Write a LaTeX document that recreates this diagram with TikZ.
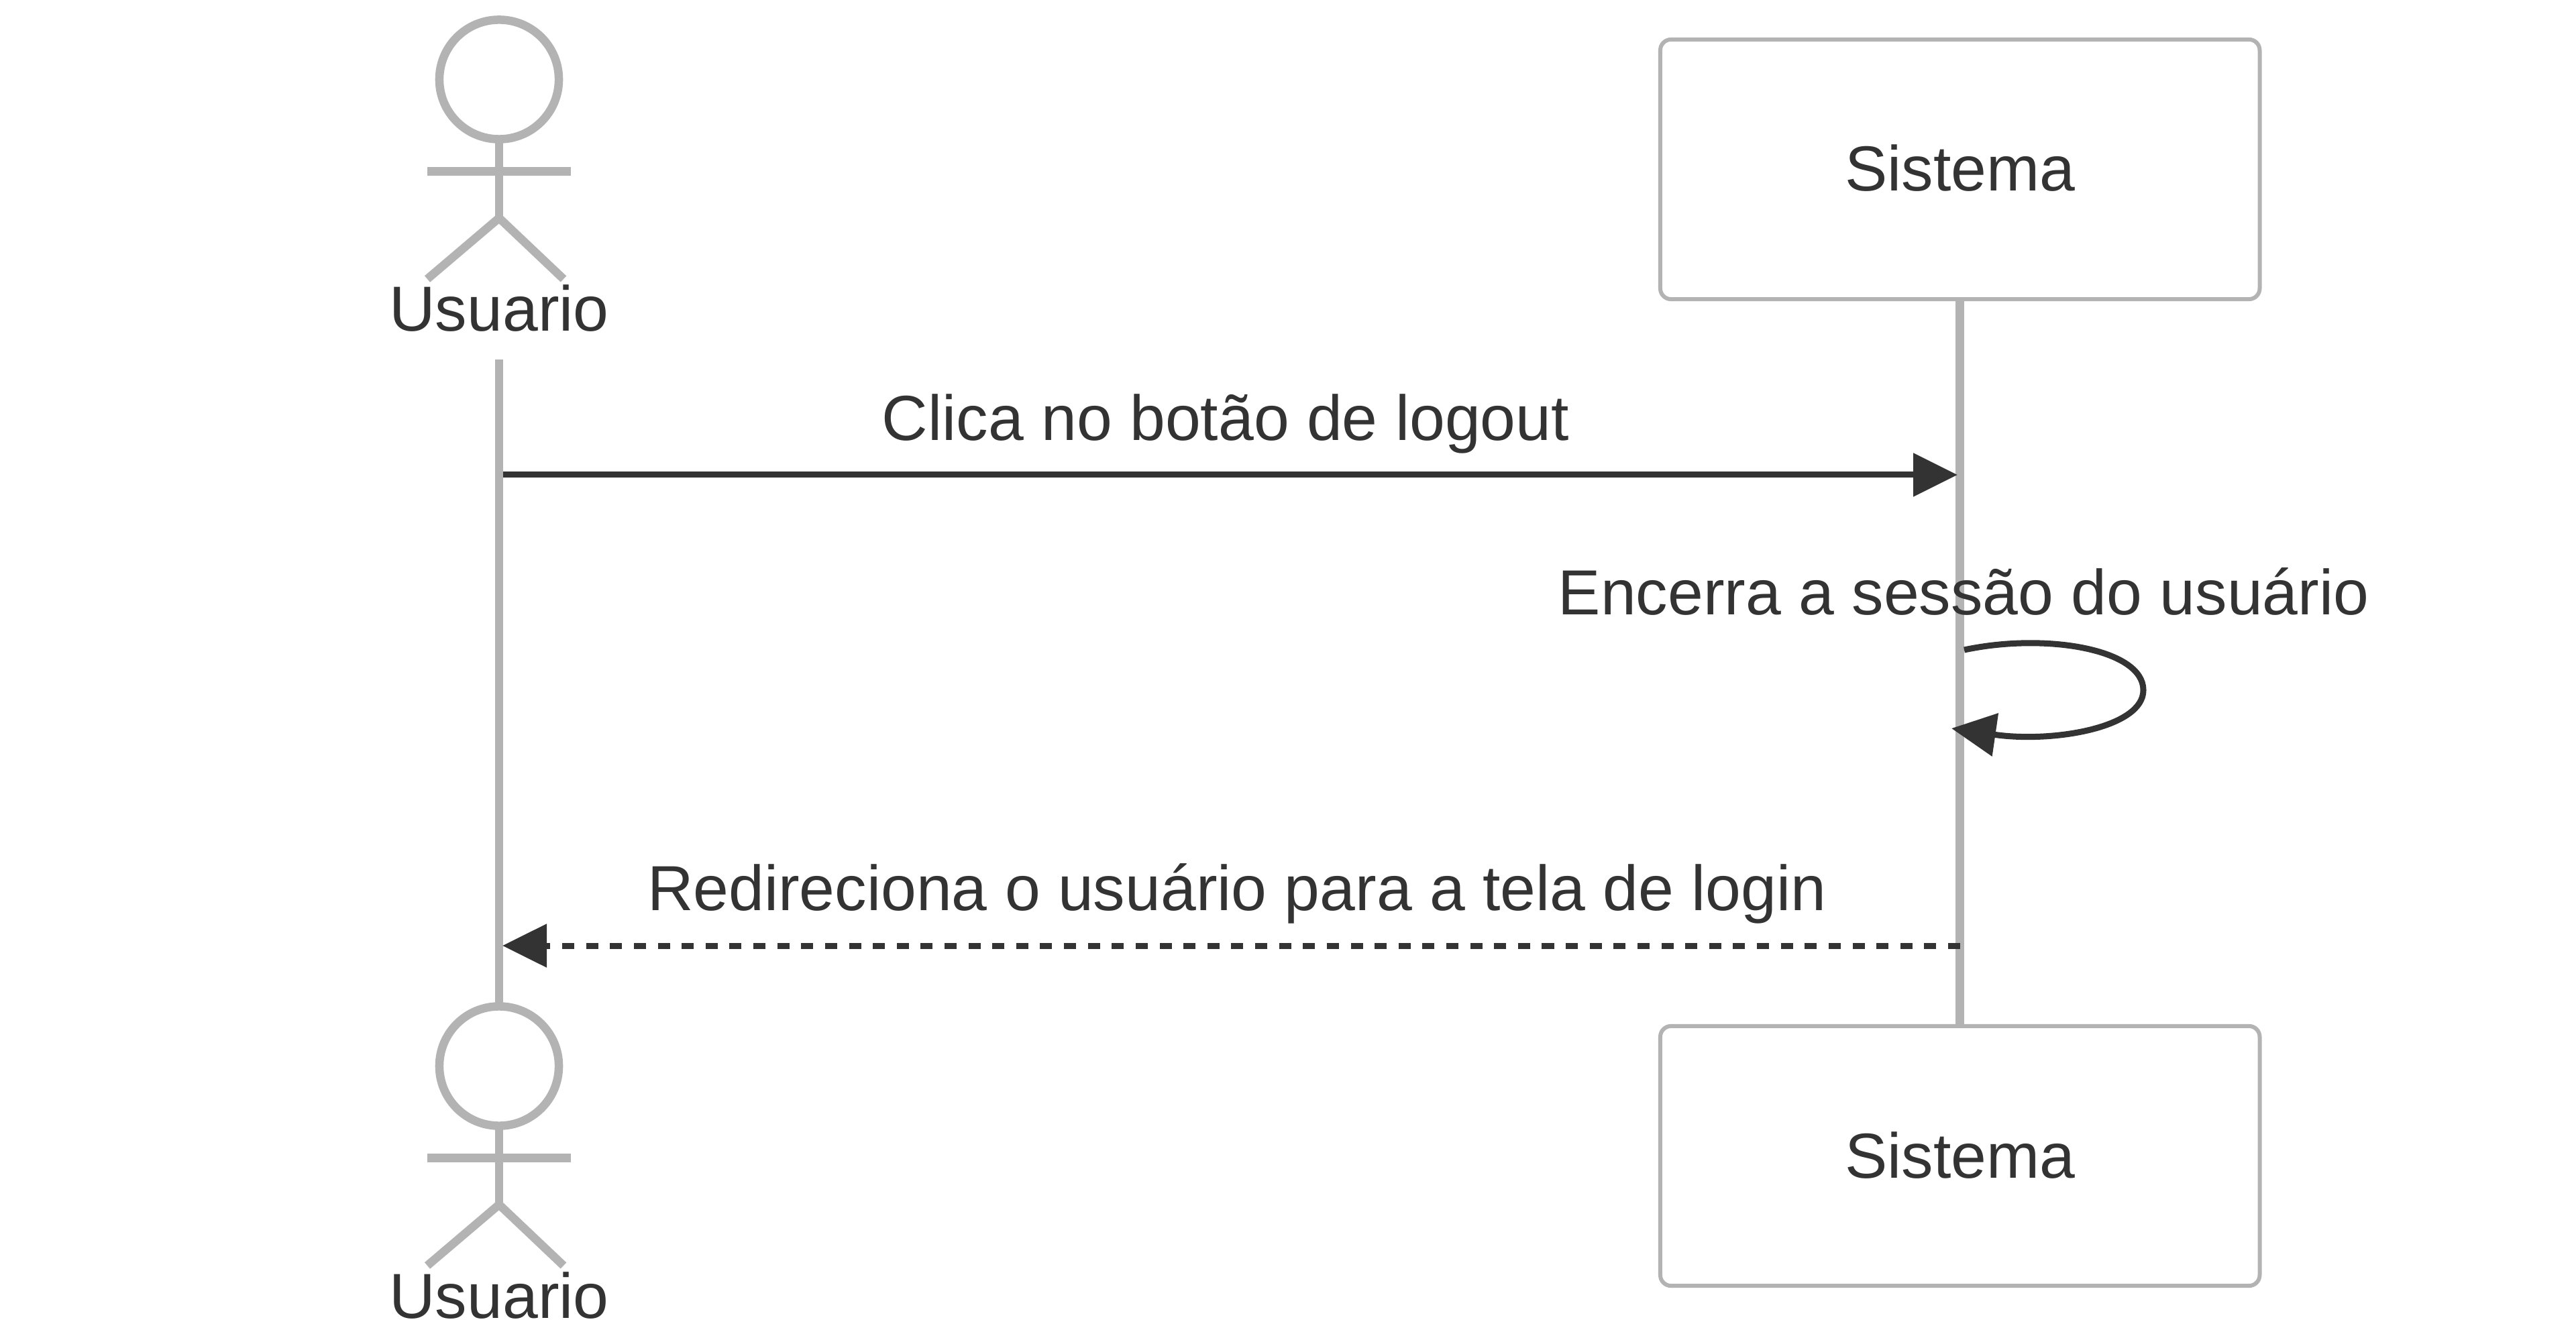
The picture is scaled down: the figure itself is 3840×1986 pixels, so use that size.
\documentclass[tikz,border=0pt]{standalone}
\usepackage{fontspec}
\setmainfont{Liberation Sans}
\usetikzlibrary{arrows.meta}
\definecolor{lifegray}{HTML}{B3B3B3}
\definecolor{inkdark}{HTML}{333333}
\tikzset{
  px/.style={x=0.01cm,y=-0.01cm},
  lifeline/.style={draw=lifegray,line width=0.125cm},
  figure/.style={draw=lifegray,line width=0.125cm},
  headshape/.style={circle,draw=lifegray,line width=0.125cm,fill=white,minimum size=1.78cm,inner sep=0pt,outer sep=0pt},
  participant/.style={rectangle,rounded corners=0.16cm,draw=lifegray,line width=0.06cm,fill=white,
    minimum width=8.93cm,minimum height=3.87cm,inner sep=0pt,outer sep=0.03cm},
  txt/.style={text=inkdark,font=\fontsize{27pt}{30pt}\selectfont,inner sep=0pt,anchor=base},
  msg/.style={draw=inkdark,line width=0.09cm,-{Triangle[length=0.66cm,width=0.63cm]}},
  msgdash/.style={msg,dash pattern=on 0.18cm off 0.176cm},
}
\newcommand{\actorfig}[2]{%
  \node[headshape] (#1head) at (744,118.5+#2) {};
  \coordinate (#1hip) at (744,325+#2);
  \coordinate (#1armL) at (637,255.7+#2);
  \coordinate (#1armR) at (851,255.7+#2);
  \coordinate (#1legL) at (637,416+#2);
  \coordinate (#1legR) at (840,416+#2);
  \draw[figure] (#1head.south) -- (#1hip);
  \draw[figure] (#1armL) -- (#1armR);
  \draw[figure] (#1legL) -- (#1hip) -- (#1legR);
  \node[txt] (#1label) at (744,494+#2) {Usuario};
}
\begin{document}
\begin{tikzpicture}[px]
\useasboundingbox (0,0) rectangle (3840,1986);
\fill[white] (0,0) rectangle (3840,1986);
% lifelines
\coordinate (ustart) at (744,536);
\node[headshape,draw=none,fill=none] (uend) at (744,1589.5) {};
\node[participant] (sysTop) at (2921.7,252.5) {};
\node[participant] (sysBot) at (2921.7,1723.5) {};
\draw[lifeline] (ustart) -- (uend.north);
\draw[lifeline] (sysTop.south) -- (sysBot.north);
\node[txt] at (2921.7,285) {Sistema};
\node[txt] at (2921.7,1756) {Sistema};
\actorfig{ua}{0}
\actorfig{ub}{1471}
% messages
\coordinate (m1a) at (750,708);
\coordinate (m1b) at (2918,708);
\coordinate (m2a) at (2928,969);
\coordinate (m2r) at (3195,1029);
\coordinate (m2b) at (2909,1086);
\coordinate (m3a) at (2922,1410);
\coordinate (m3b) at (749,1410);
\draw[msg] (m1a) -- (m1b);
\draw[msg] (m2a) .. controls (3050,943) and (3195,968) .. (m2r) .. controls (3195,1085) and (3060,1108) .. (m2b);
\draw[msgdash] (m3a) -- (m3b);
\node[txt] (t1) at (1827,657) {Clica no botão de logout};
\node[txt] (t2) at (2927,917) {Encerra a sessão do usuário};
\node[txt] (t3) at (1844,1357) {Redireciona o usuário para a tela de login};
\end{tikzpicture}
\end{document}
